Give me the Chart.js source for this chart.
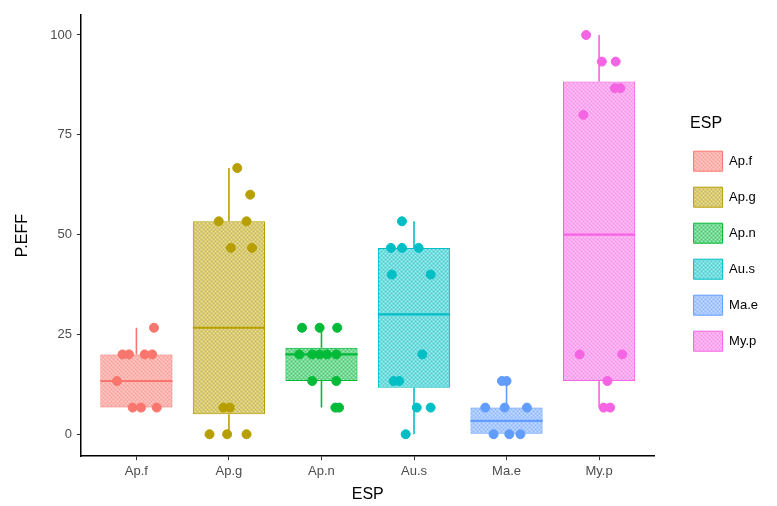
<!DOCTYPE html>
<html>
<head>
<meta charset="utf-8">
<script src="https://cdn.jsdelivr.net/npm/chart.js@4"></script>
<style>
  html, body { margin: 0; padding: 0; background: #fff; }
  #wrap { width: 777px; height: 506px; }
</style>
</head>
<body>
<div id="wrap"><canvas id="grafico" width="777" height="506"></canvas></div>
<script>
// categorias e cores (paleta ggplot)
const especies = ['Ap.f', 'Ap.g', 'Ap.n', 'Au.s', 'Ma.e', 'My.p'];
const cores = ['#F8766D', '#B79F00', '#00BA38', '#00BFC4', '#619CFF', '#F564E3'];

// estatisticas das caixas
const minimo  = [6.67, 0,     6.67,  0,     0,    6.67];
const q1      = [6.67, 5,     13.33, 11.67, 0,    13.33];
const mediana = [13.33, 26.67, 20,   30,    3.33, 50];
const q3      = [20,   53.33, 21.67, 46.67, 6.67, 88.33];
const maximo  = [26.67, 66.67, 26.67, 53.33, 13.33, 100];

// pontos observados (valores) e deslocamento horizontal (jitter)
const pontosY = [
  [26.67, 20, 20, 20, 20, 13.33, 6.67, 6.67, 6.67],
  [66.67, 60, 53.33, 53.33, 46.67, 46.67, 6.67, 6.67, 0, 0, 0],
  [26.67, 26.67, 26.67, 20, 20, 20, 20, 20, 13.33, 13.33, 6.67, 6.67],
  [53.33, 46.67, 46.67, 46.67, 40, 40, 20, 13.33, 13.33, 6.67, 6.67, 0],
  [13.33, 13.33, 6.67, 6.67, 6.67, 0, 0, 0],
  [100, 93.33, 93.33, 86.67, 86.67, 80, 20, 20, 13.33, 6.67, 6.67]
];
const jitter = [
  [0.19, -0.15, -0.08, 0.09, 0.17, -0.21, -0.04, 0.05, 0.22],
  [0.09, 0.23, -0.11, 0.19, 0.02, 0.25, -0.06, 0.01, -0.21, -0.02, 0.19],
  [-0.21, -0.02, 0.17, -0.24, -0.10, -0.02, 0.06, 0.16, -0.10, 0.16, 0.15, 0.19],
  [-0.13, -0.25, -0.13, 0.05, -0.24, 0.18, 0.09, -0.22, -0.16, 0.03, 0.18, -0.09],
  [-0.05, 0.0, -0.23, -0.02, 0.22, -0.14, 0.03, 0.15],
  [-0.14, 0.03, 0.18, 0.17, 0.23, -0.17, -0.21, 0.25, 0.09, 0.05, 0.12]
];

const larguraCaixa = 0.78;
const fonte = "'Liberation Sans', Arial, sans-serif";

function hexRgba(hex, a) {
  const n = parseInt(hex.slice(1), 16);
  return `rgba(${(n >> 16) & 255},${(n >> 8) & 255},${n & 255},${a})`;
}

// textura quadriculada das caixas
function criarTextura(cor) {
  const c = document.createElement('canvas');
  c.width = 4; c.height = 4;
  const g = c.getContext('2d');
  g.fillStyle = hexRgba(cor, 0.55);
  g.fillRect(0, 0, 4, 4);
  g.fillStyle = 'rgba(255,255,255,0.45)';
  g.fillRect(1, 1, 1, 1);
  g.fillRect(3, 3, 1, 1);
  g.fillStyle = hexRgba(cor, 0.35);
  g.fillRect(3, 1, 1, 1);
  g.fillRect(1, 3, 1, 1);
  return document.getElementById('grafico').getContext('2d').createPattern(c, 'repeat');
}
const texturas = cores.map(criarTextura);

const datasets = [];

// pontos
especies.forEach((esp, i) => {
  datasets.push({
    type: 'scatter',
    label: esp,
    data: pontosY[i].map((v, k) => ({ x: i + 1 + jitter[i][k], y: v })),
    backgroundColor: cores[i],
    borderColor: cores[i],
    pointRadius: 4.5,
    pointHoverRadius: 4.5,
    order: 0
  });
});

// medianas
especies.forEach((esp, i) => {
  datasets.push({
    type: 'line',
    label: 'med',
    data: [
      { x: i + 1 - larguraCaixa / 2, y: mediana[i] },
      { x: i + 1 + larguraCaixa / 2, y: mediana[i] }
    ],
    borderColor: cores[i],
    borderWidth: 2.2,
    pointRadius: 0,
    order: 1
  });
});

// bigodes
especies.forEach((esp, i) => {
  datasets.push({
    type: 'line',
    label: 'whisker',
    data: [
      { x: i + 1, y: maximo[i] },
      { x: i + 1, y: q3[i] },
      { x: i + 1, y: null },
      { x: i + 1, y: q1[i] },
      { x: i + 1, y: minimo[i] }
    ],
    borderColor: cores[i],
    borderWidth: 1.6,
    pointRadius: 0,
    spanGaps: false,
    order: 2
  });
});

// caixas
datasets.push({
  type: 'bar',
  label: 'box',
  data: especies.map((e, i) => ({ x: i + 1, y: [q1[i], q3[i]] })),
  backgroundColor: texturas,
  borderColor: cores,
  borderWidth: 1,
  borderSkipped: false,
  grouped: false,
  categoryPercentage: 1,
  barPercentage: larguraCaixa,
  order: 3
});

// empurra a legenda um pouco para a direita, como no ggplot
// (a largura menor só serve para centrar o título sobre as chaves)
const ajusteLegenda = {
  id: 'ajusteLegenda',
  afterLayout(chart) {
    const lg = chart.legend;
    lg.left += 23;
    lg.right += 23;
    lg.width = 57;
  }
};

new Chart(document.getElementById('grafico'), {
  type: 'bar',
  data: { datasets: datasets },
  plugins: [ajusteLegenda],
  options: {
    responsive: false,
    animation: false,
    layout: { padding: { left: 13, right: 32, top: 15, bottom: 2 } },
    plugins: {
      tooltip: { enabled: false },
      legend: {
        position: 'right',
        align: 'start',
        title: {
          display: true,
          text: 'ESP',
          color: '#000',
          position: 'center',
          font: { family: fonte, size: 16 },
          padding: { top: 101, bottom: 0 }
        },
        labels: {
          boxWidth: 29,
          boxHeight: 20,
          padding: 16,
          color: '#000',
          font: { family: fonte, size: 13 },
          generateLabels: () => especies.map((e, i) => ({
            text: e,
            fillStyle: texturas[i],
            strokeStyle: cores[i],
            lineWidth: 1,
            datasetIndex: i
          }))
        },
        onClick: () => {}
      }
    },
    scales: {
      x: {
        type: 'linear',
        min: 0.4,
        max: 6.6,
        offset: false,
        afterBuildTicks: (ax) => { ax.ticks = especies.map((e, i) => ({ value: i + 1 })); },
        ticks: {
          color: '#4d4d4d',
          font: { family: fonte, size: 13 },
          padding: 3,
          callback: (v) => especies[v - 1]
        },
        grid: { display: true, offset: false, drawOnChartArea: false, drawTicks: true, tickLength: 4, color: '#333' },
        border: { display: true, color: '#000', width: 1.5 },
        title: {
          display: true,
          text: 'ESP',
          color: '#000',
          font: { family: fonte, size: 16 },
          padding: { top: 3, bottom: 0 }
        }
      },
      y: {
        type: 'linear',
        min: -5.5,
        max: 105,
        afterBuildTicks: (ax) => { ax.ticks = [0, 25, 50, 75, 100].map(v => ({ value: v })); },
        ticks: {
          color: '#4d4d4d',
          font: { family: fonte, size: 13 },
          padding: 5
        },
        grid: { display: true, offset: false, drawOnChartArea: false, drawTicks: true, tickLength: 4, color: '#333' },
        border: { display: true, color: '#000', width: 1.5 },
        title: {
          display: true,
          text: 'P.EFF',
          color: '#000',
          font: { family: fonte, size: 16 },
          padding: { top: 0, bottom: 13 }
        }
      }
    }
  }
});
</script>
</body>
</html>
